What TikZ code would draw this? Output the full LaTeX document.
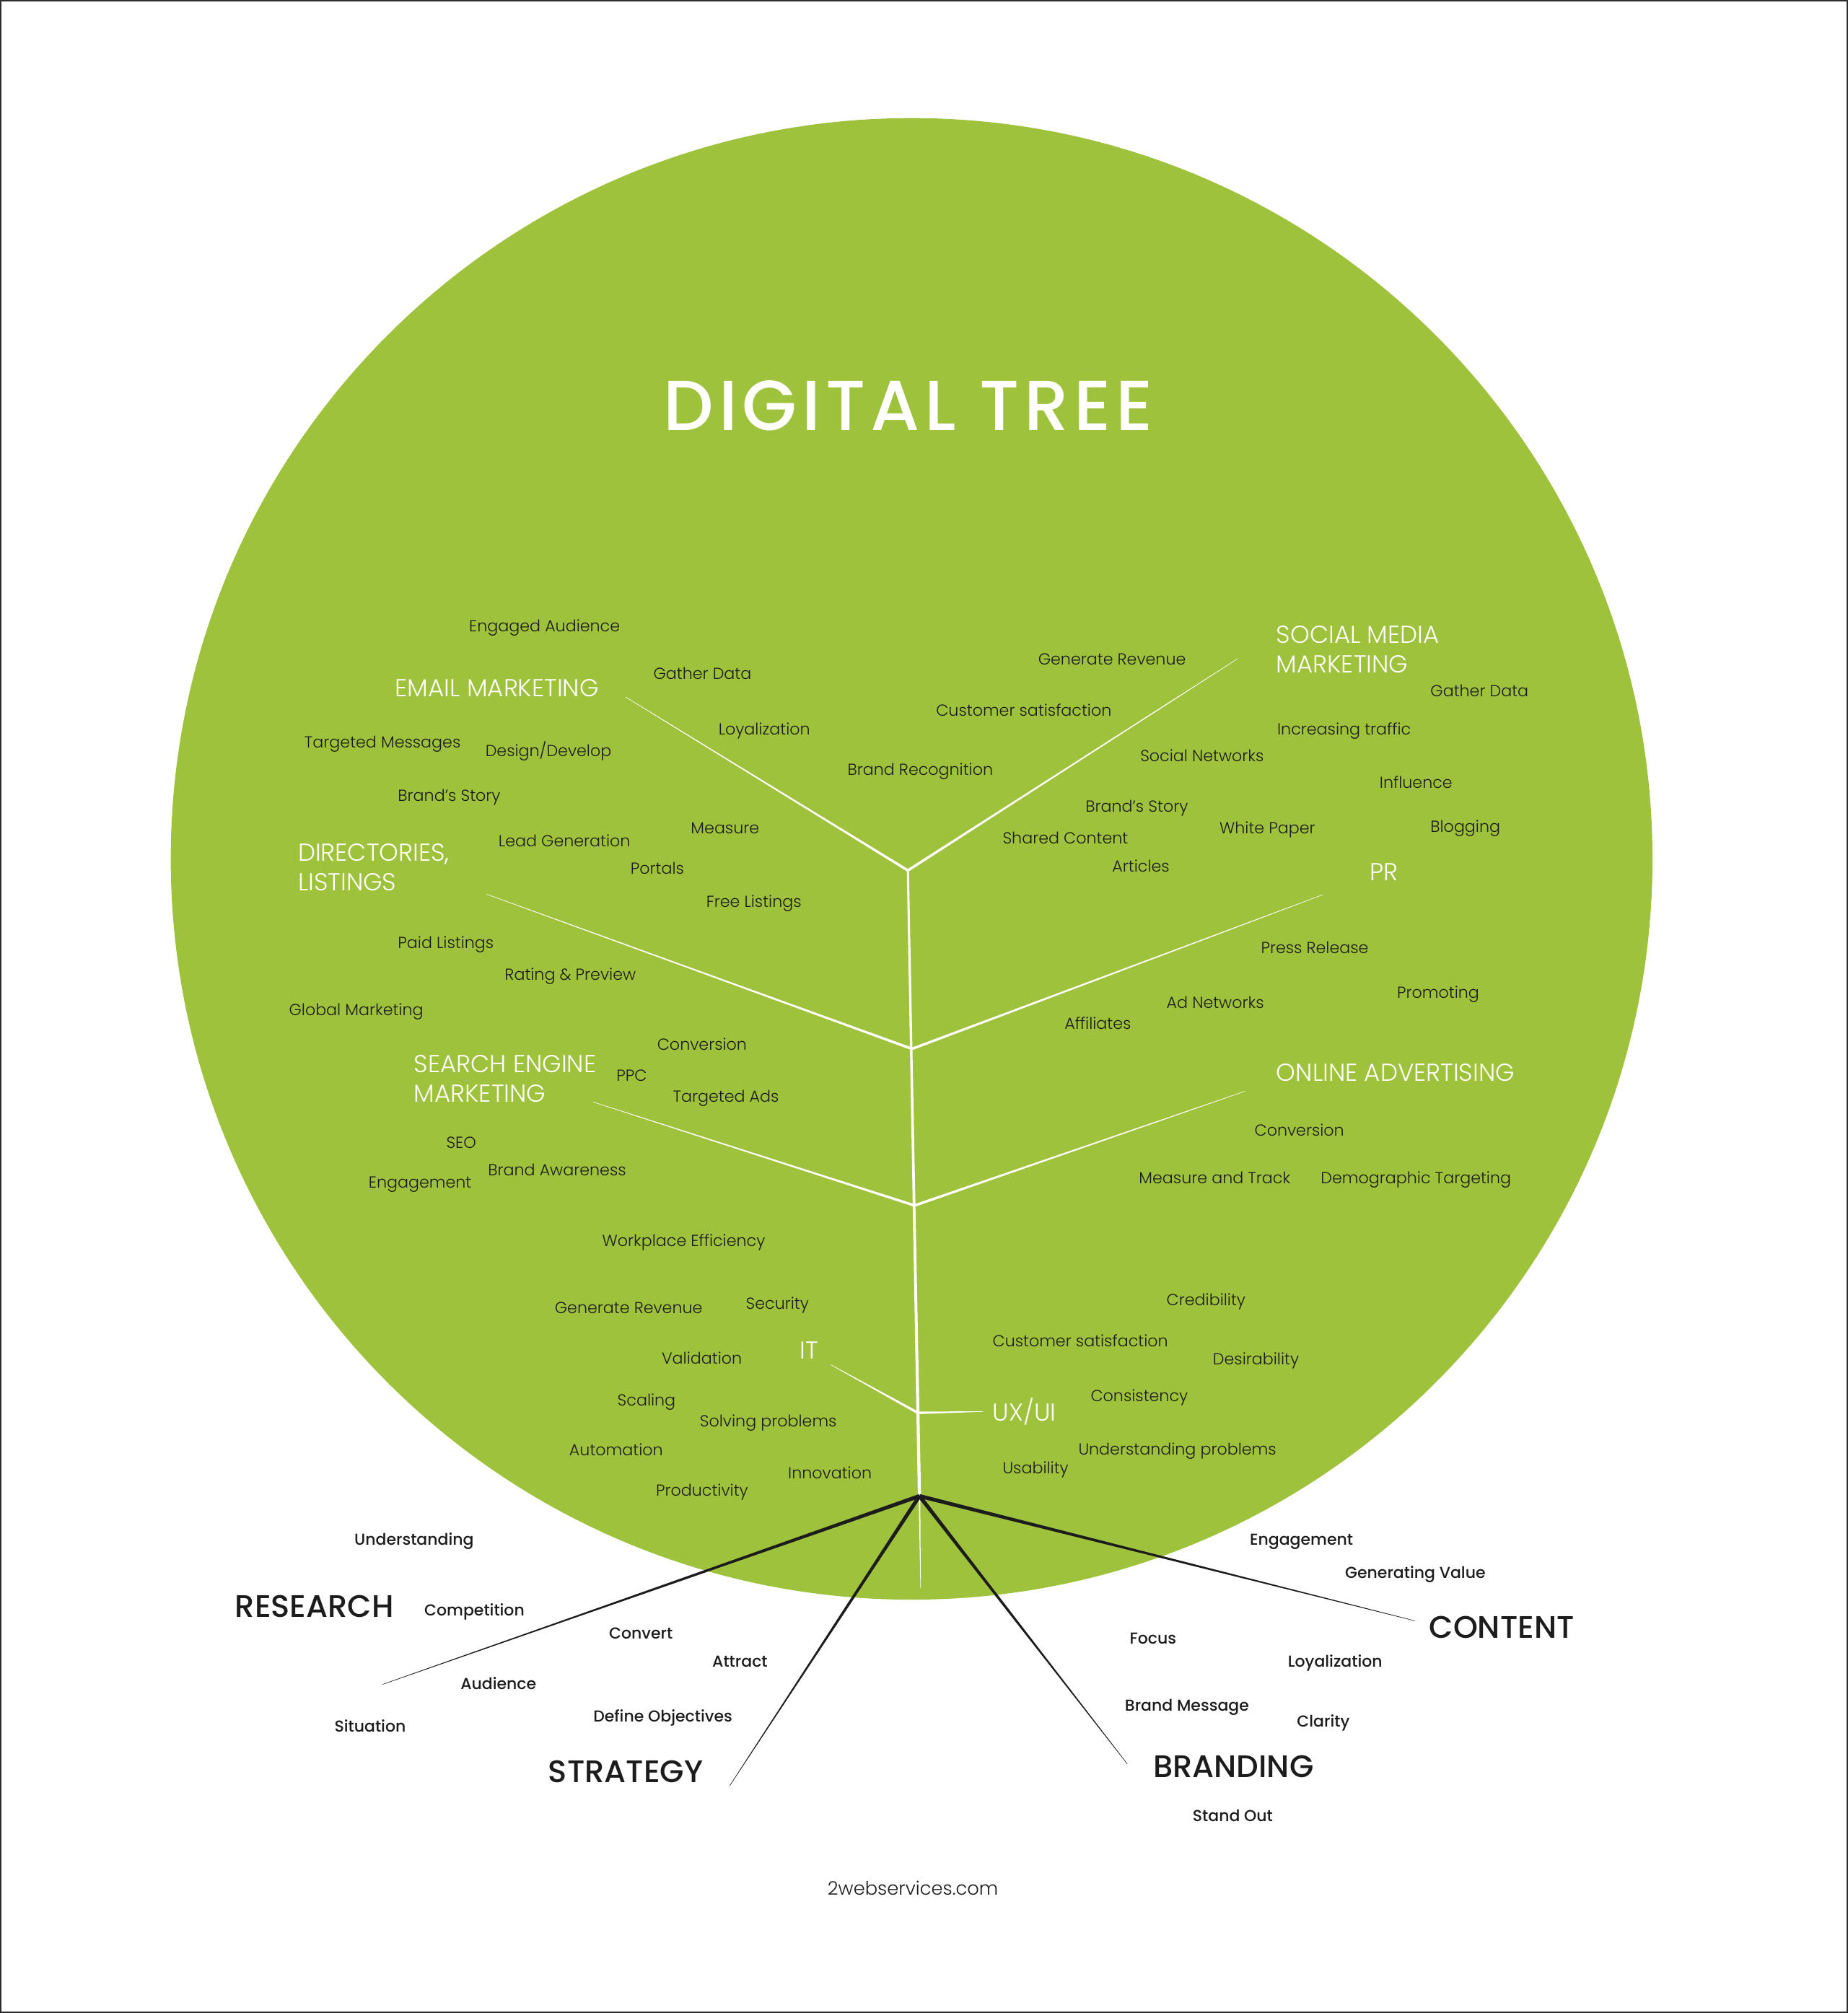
\documentclass[tikz,border=0pt]{standalone}
\usepackage{fontspec}
\setmainfont{Poppins}
\newfontfamily\poplight{Poppins Light}
\newfontfamily\popmedium{Poppins Medium}
\usetikzlibrary{calc}

\definecolor{treegreen}{RGB}{158,194,59}
\definecolor{ink}{RGB}{28,28,28}
\definecolor{framegray}{RGB}{45,45,45}

% tapered stroke: colour, thick end, thin end, half widths
\newcommand{\taper}[5]{%
  \fill[#1] ($(#2)!#4!90:(#3)$) -- ($(#3)!#5!-90:(#2)$) -- ($(#3)!#5!90:(#2)$) -- ($(#2)!#4!-90:(#3)$) -- cycle;}

\begin{document}
\begin{tikzpicture}[x=1.779pt,y=-1.779pt,
    leaf/.style={anchor=west,inner sep=0pt,text height=15.5pt,text depth=0pt,text=ink,
      font=\poplight\fontsize{22.2}{26}\selectfont},
    branchlabel/.style={anchor=base west,inner sep=0pt,align=left,text=white,
      font=\poplight\fontsize{34}{41}\selectfont},
    rootleaf/.style={anchor=west,inner sep=0pt,text height=15.4pt,text depth=0pt,text=ink,
      font=\popmedium\fontsize{22}{26}\selectfont},
    rootlabel/.style={anchor=west,inner sep=0pt,text height=30.3pt,text depth=0pt,text=ink,
      font=\popmedium\fontsize{43.2}{48}\selectfont}]
  \useasboundingbox (0,0) rectangle (1439,1568);
  \fill[white] (0,0) rectangle (1439,1568);
  \draw[framegray,line width=3.5pt] (0,0) rectangle (1439,1568);

  % crown
  \coordinate (centre) at (710,669);
  \fill[treegreen] (centre) circle[radius=1026.5pt];

  \node[anchor=base,inner sep=0pt,text=white,font=\popmedium\fontsize{98}{100}\selectfont\addfontfeature{LetterSpace=7}]
    (title) at (707.5,335) {DIGITAL TREE};

  % trunk and forks
  \coordinate (trunktop) at (707.1,678);
  \coordinate (fork1) at (710.3,817);
  \coordinate (fork2) at (712.3,939);
  \coordinate (fork3) at (714.9,1100.5);
  \coordinate (hub) at (716.1,1165.3);
  \coordinate (trunkend) at (717,1237);

  \coordinate (emailend) at (487.4,543);
  \coordinate (socialend) at (964,513);
  \coordinate (dirend) at (379,696.5);
  \coordinate (prend) at (1030,697);
  \coordinate (semend) at (462,858.4);
  \coordinate (adsend) at (969.6,850);
  \coordinate (itend) at (647,1063);
  \coordinate (uxend) at (765.6,1099.5);

  \taper{white}{hub}{trunktop}{2.2pt}{1.5pt}
  \taper{white}{hub}{trunkend}{1.1pt}{0.3pt}
  \foreach \a/\b in {trunktop/emailend,trunktop/socialend,fork1/dirend,fork1/prend,
                     fork2/semend,fork2/adsend,fork3/itend,fork3/uxend}
    {\taper{white}{\a}{\b}{1.8pt}{0.3pt}}

  % branch names (base = last line)
  \node[branchlabel] (email) at (307.8,542.7) {EMAIL MARKETING};
  \node[branchlabel] (social) at (994,524.2) {SOCIAL MEDIA\\MARKETING};
  \node[branchlabel] (directories) at (232,694) {DIRECTORIES,\\LISTINGS};
  \node[branchlabel] (pr) at (1066.6,686) {PR};
  \node[branchlabel] (sem) at (322.4,858.6) {SEARCH ENGINE\\MARKETING};
  \node[branchlabel] (ads) at (994,842) {ONLINE ADVERTISING};
  \node[branchlabel] (it) at (622.8,1058.7) {IT};
  \node[branchlabel] (uxui) at (773,1107) {UX/UI};

  % leaves, upper half
  \foreach \x/\y/\t [count=\i] in {365.3/487.8/Engaged Audience, 508.8/525/Gather Data,
      559.5/568/Loyalization, 237/578/Targeted Messages, 660/599.7/Brand Recognition,
      309.8/620/Brand’s Story, 538/644.9/Measure, 388.2/655/Lead Generation,
      491/676.7/Portals, 550/702.5/Free Listings, 309.8/734.6/Paid Listings,
      393/759/Rating \& Preview, 225/786.9/Global Marketing}
    \node[leaf] (upleft\i) at (\x,\y) {\t};
  \node[leaf] (design) at (378,585) {Design/Develop};

  \foreach \x/\y/\t [count=\i] in {808.5/513.4/Generate Revenue, 729/553.4/Customer satisfaction,
      1114/538.4/Gather Data, 994.7/567.9/Increasing traffic, 888/588.7/Social Networks,
      1074.4/609.8/Influence, 845.3/627.9/Brand’s Story, 949.8/644.9/White Paper,
      1114/644/Blogging, 780.8/653/Shared Content, 866.2/675/Articles,
      982/738.4/Press Release, 1088/773.3/Promoting, 908.5/780.8/Ad Networks,
      829/797.5/Affiliates}
    \node[leaf] (upright\i) at (\x,\y) {\t};

  % leaves, lower half
  \foreach \x/\y/\t [count=\i] in {511.8/813.6/Conversion, 480/837.9/PPC,
      524/854.2/Targeted Ads, 347.5/889.8/SEO, 380/911.7/Brand Awareness,
      287/921.2/Engagement, 469/966.6/Workplace Efficiency, 432/1018.8/Generate Revenue,
      580.8/1015.6/Security, 515.3/1058/Validation, 480.8/1090.8/Scaling,
      545/1106.8/Solving problems, 443.3/1129.5/Automation, 613.7/1147.3/Innovation,
      510.8/1160.8/Productivity}
    \node[leaf] (lowleft\i) at (\x,\y) {\t};

  \foreach \x/\y/\t [count=\i] in {977/880.6/Conversion, 887/917.4/Measure and Track,
      1028.6/917.4/Demographic Targeting, 908.5/1012.4/Credibility,
      773/1044.7/Customer satisfaction, 944.6/1058.5/Desirability,
      849.4/1087.3/Consistency, 839.8/1129/Understanding problems, 780.8/1143.3/Usability}
    \node[leaf] (lowright\i) at (\x,\y) {\t};

  % roots
  \coordinate (researchend) at (298,1312);
  \coordinate (strategyend) at (568.3,1391);
  \coordinate (brandingend) at (878,1374);
  \coordinate (contentend) at (1102,1262.5);
  \foreach \b in {researchend,strategyend,brandingend,contentend}
    {\taper{ink}{hub}{\b}{2.7pt}{0.3pt}}

  \node[rootlabel] (research) at (183,1251) {RESEARCH};
  \node[rootlabel] (strategy) at (427,1380) {STRATEGY};
  \node[rootlabel] (branding) at (898,1376) {BRANDING};
  \node[rootlabel] (content) at (1113,1267.7) {CONTENT};

  \foreach \x/\y/\t [count=\i] in {275.9/1199.2/Understanding, 330.4/1254/Competition,
      474.3/1272/Convert, 554.7/1294/Attract, 358.6/1311.5/Audience,
      462/1337/Define Objectives, 260.4/1344.5/Situation,
      973.3/1199/Engagement, 1047.5/1224.8/Generating Value, 879.7/1276/Focus,
      1003/1294.3/Loyalization, 876/1328.3/Brand Message, 1010/1340.7/Clarity,
      928.8/1414.3/Stand Out}
    \node[rootleaf] (rootleaf\i) at (\x,\y) {\t};

  \node[anchor=base,inner sep=0pt,text=ink,font=\poplight\fontsize{25.8}{30}\selectfont]
    (site) at (711,1476) {2webservices.com};
\end{tikzpicture}
\end{document}
